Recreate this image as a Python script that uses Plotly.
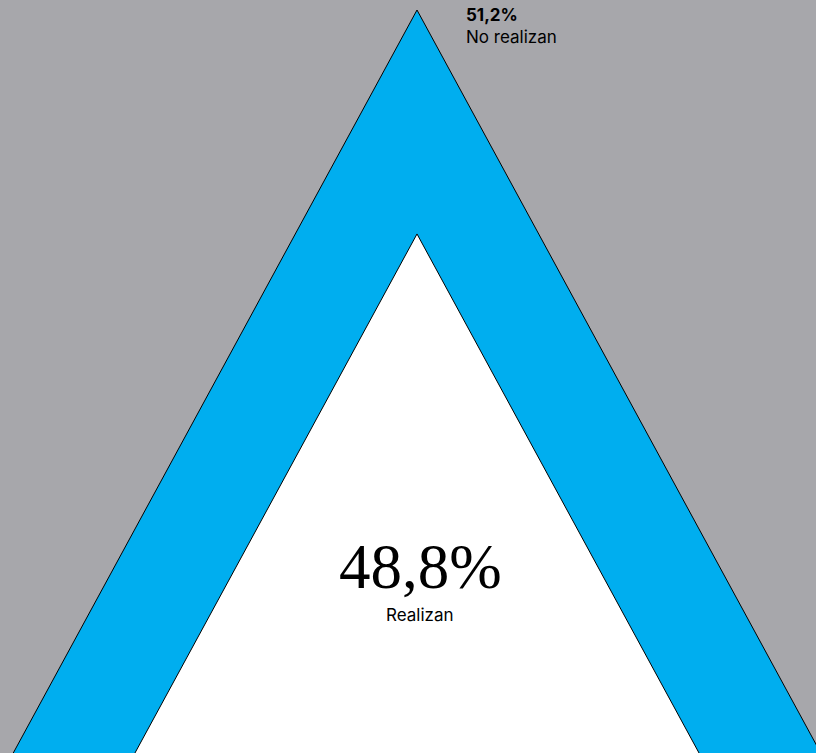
import math
import plotly.graph_objects as go

# Data
categories = ["Realizan", "No realizan"]
values = [48.8, 51.2]
value_labels = ["48,8%", "51,2%"]

BG = "#A7A7AB"
BLUE = "#00AEEF"

total = sum(values)
scale_inner = math.sqrt(values[0] / total)  # area-proportional inner triangle
half_base = 0.5434  # triangle shape (half base / height)

def tri(s):
    return [-half_base * s, 0, half_base * s, -half_base * s], [0, s, 0, 0]

fig = go.Figure()
for s, col in [(1.0, BLUE), (scale_inner, "white")]:
    tx, ty = tri(s)
    fig.add_trace(go.Scatter(x=tx, y=ty, mode="lines", fill="toself", fillcolor=col,
                             line=dict(width=0), hoverinfo="skip", showlegend=False))
    fig.add_trace(go.Scatter(x=tx[:3], y=ty[:3], mode="lines",
                             line=dict(color="black", width=1), hoverinfo="skip", showlegend=False))

W, H = 816, 753
apex_px, base_px, apex_x_px = 10, 753, 417
unit = base_px - apex_px
fig.update_xaxes(range=[-apex_x_px / unit, (W - apex_x_px) / unit], visible=False, fixedrange=True)
fig.update_yaxes(range=[(base_px - H) / unit, base_px / unit], visible=False, fixedrange=True)

fig.add_annotation(x=0, y=1.0, xref="x", yref="y", xanchor="left", yanchor="top",
                   xshift=47, yshift=7, showarrow=False, align="left",
                   text=f"<b>{value_labels[1]}</b><br>{categories[1]}",
                   font=dict(family="Inter, sans-serif", size=17, color="black"))
fig.add_annotation(x=0, y=scale_inner * 0.355, xref="x", yref="y", xanchor="center", yanchor="middle",
                   xshift=3, yshift=2, showarrow=False, text=value_labels[0],
                   font=dict(family="Liberation Serif, serif", size=63, color="black"))
fig.add_annotation(x=0, y=scale_inner * 0.355, xref="x", yref="y", xanchor="center", yanchor="middle",
                   xshift=3, yshift=-46, showarrow=False, text=categories[0],
                   font=dict(family="Inter, sans-serif", size=17, color="black"))

fig.update_layout(width=W, height=H, margin=dict(l=0, r=0, t=0, b=0),
                  paper_bgcolor=BG, plot_bgcolor=BG, showlegend=False)

fig.write_html("out.html", config={"displayModeBar": False},
               post_script="document.body.style.margin='0';")
